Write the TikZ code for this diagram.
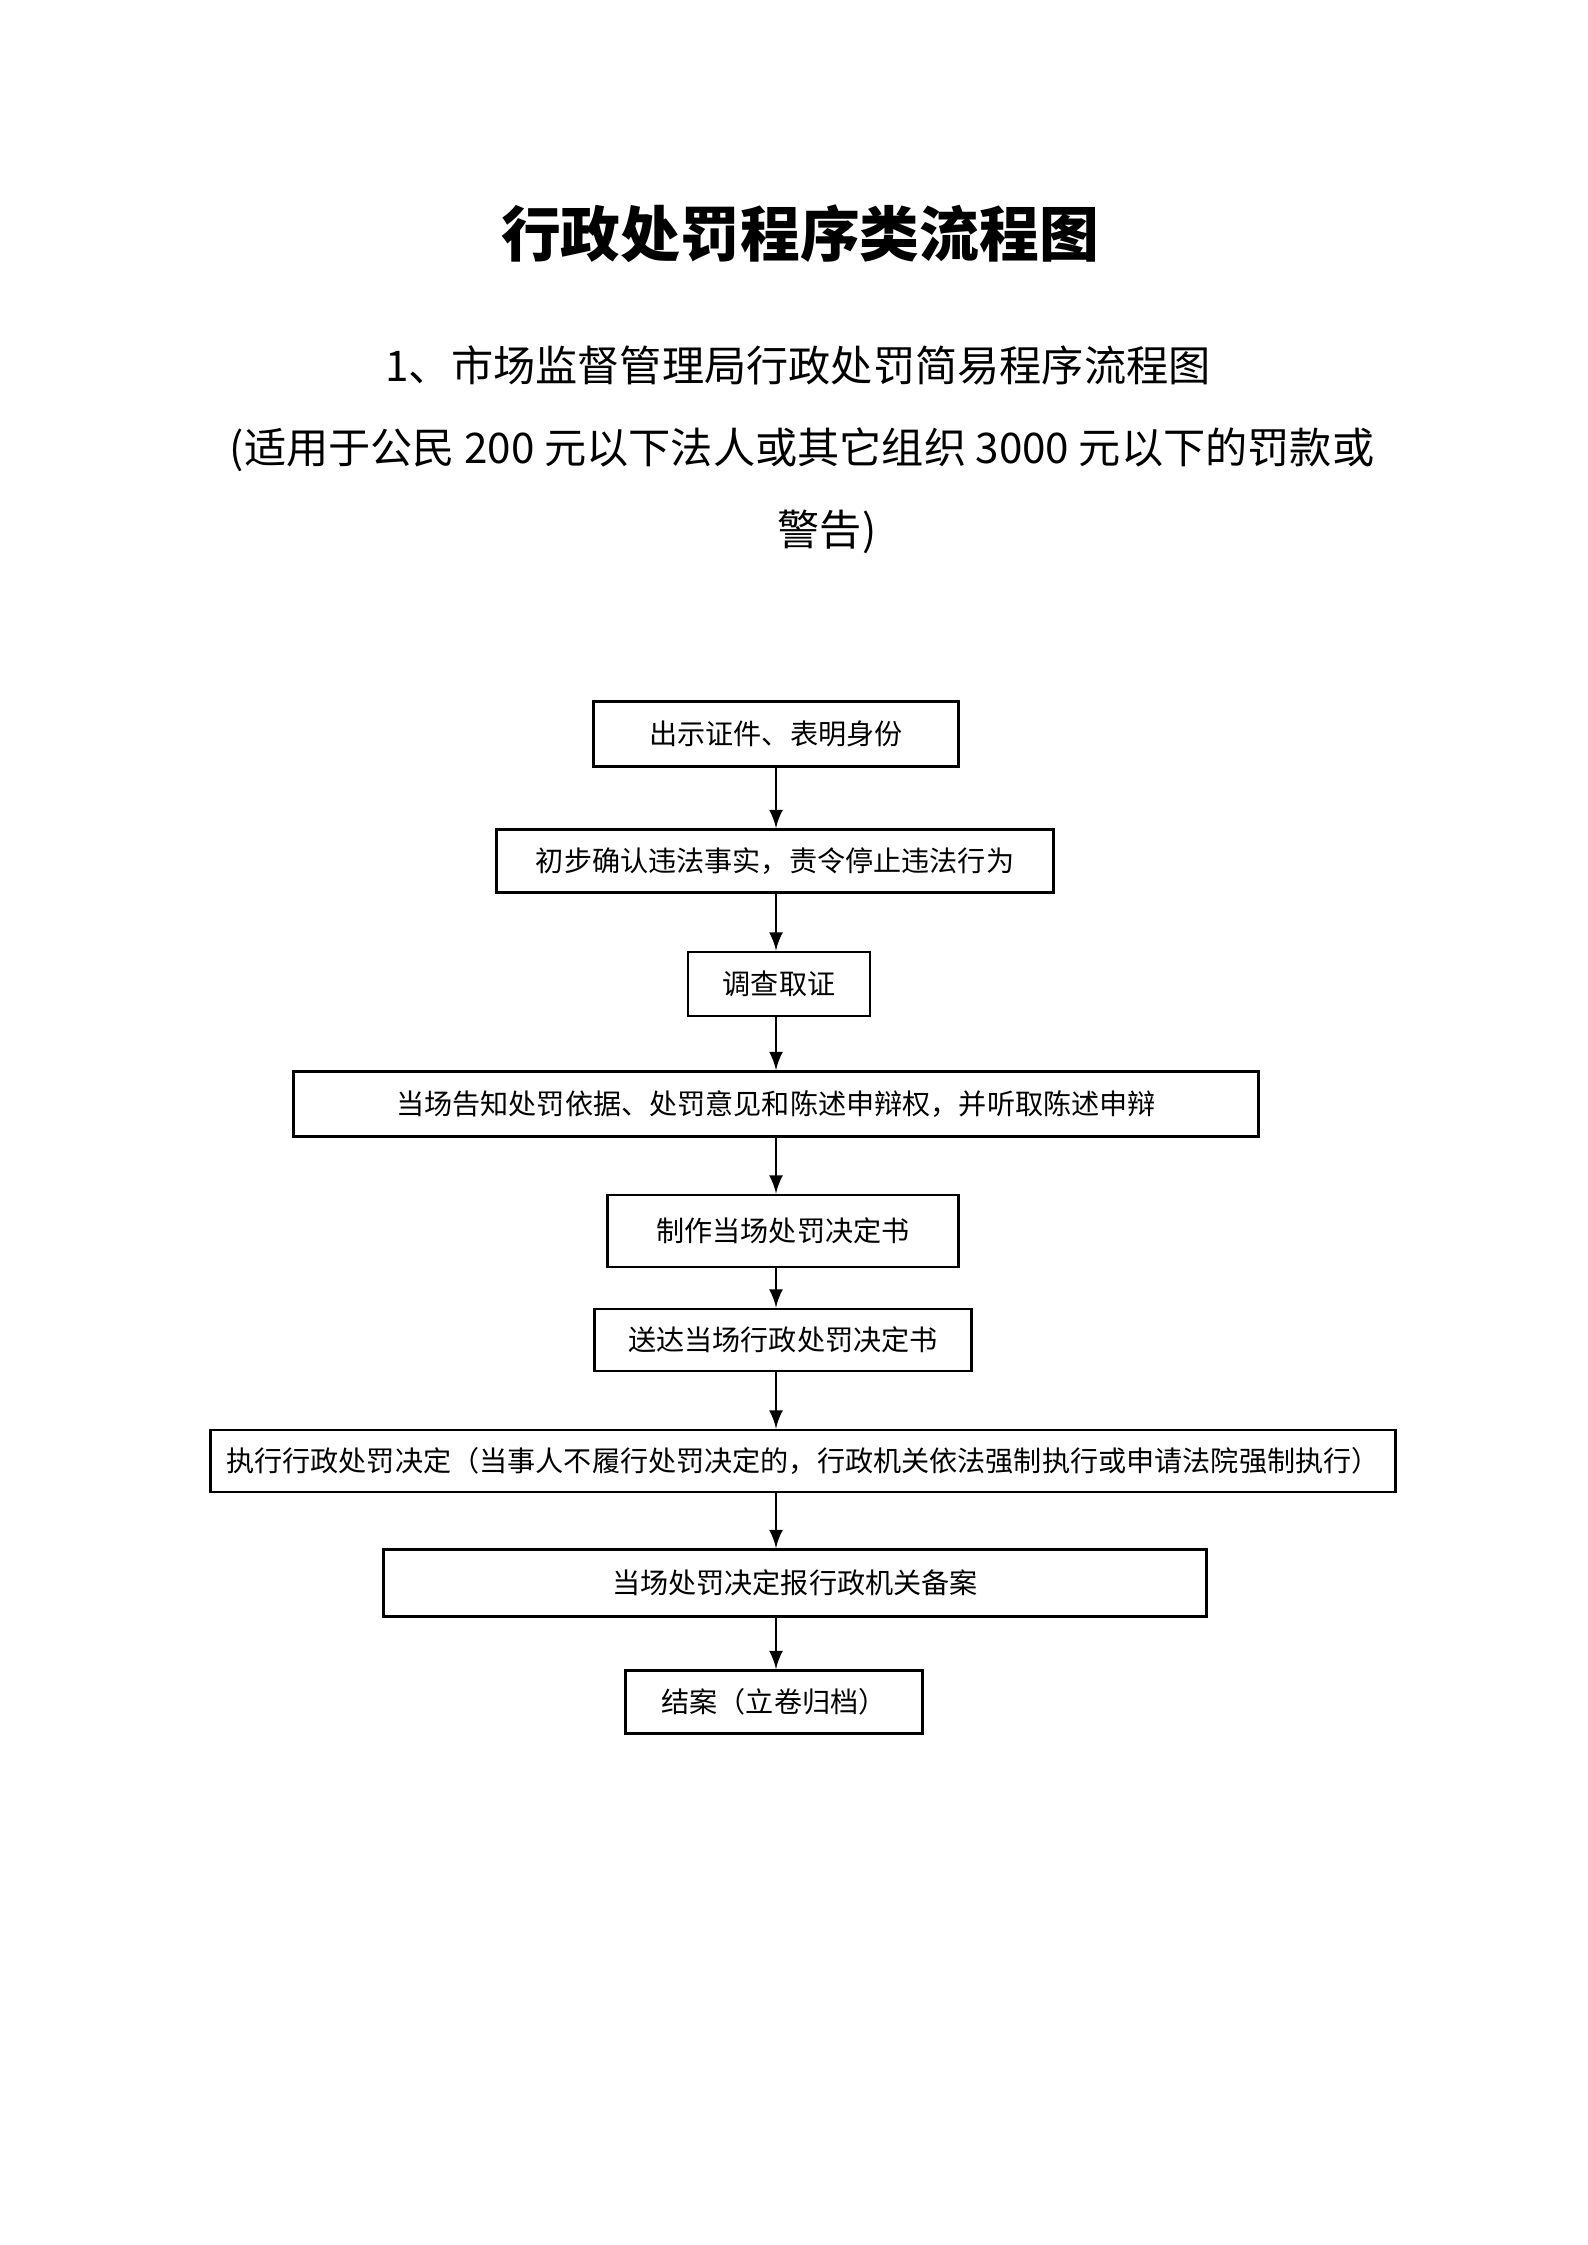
\documentclass[tikz,border=0pt]{standalone}
\usepackage{fontspec}
\setmainfont{Noto Sans CJK SC}
\tikzset{stepbox/.style={draw,thick,inner sep=0pt,font=\fontsize{8}{10}\selectfont}}
\begin{document}
\begin{tikzpicture}[x=0.01cm,y=-0.01cm]
\useasboundingbox (0,0) rectangle (1587,2245);
\node (title) at (800,234) {\fontsize{17}{20}\selectfont\bfseries 行政处罚程序类流程图};
\node (sub1) at (798,365) {\fontsize{12}{14}\selectfont 1、市场监督管理局行政处罚简易程序流程图};
\node (sub2) at (802,450) {\fontsize{12}{14}\selectfont (适用于公民 200 元以下法人或其它组织 3000 元以下的罚款或};
\node (sub3) at (827,532) {\fontsize{12}{14}\selectfont 警告)};
\node[stepbox,minimum width=3.64cm,minimum height=0.65cm] (b1) at (776,734) {出示证件、表明身份};
\node[stepbox,minimum width=5.57cm,minimum height=0.63cm] (b2) at (775,861) {初步确认违法事实，责令停止违法行为};
\node[stepbox,minimum width=1.82cm,minimum height=0.64cm] (b3) at (779,984) {调查取证};
\node[stepbox,minimum width=9.65cm,minimum height=0.65cm] (b4) at (776,1104) {当场告知处罚依据、处罚意见和陈述申辩权，并听取陈述申辩};
\node[stepbox,minimum width=3.51cm,minimum height=0.72cm] (b5) at (783,1231) {制作当场处罚决定书};
\node[stepbox,minimum width=3.77cm,minimum height=0.62cm] (b6) at (783,1340) {送达当场行政处罚决定书};
\node[stepbox,minimum width=11.84cm,minimum height=0.62cm] (b7) at (803,1461) {执行行政处罚决定（当事人不履行处罚决定的，行政机关依法强制执行或申请法院强制执行）};
\node[stepbox,minimum width=8.22cm,minimum height=0.67cm] (b8) at (795,1583) {当场处罚决定报行政机关备案};
\node[stepbox,minimum width=2.97cm,minimum height=0.63cm] (b9) at (774,1702) {结案（立卷归档）};
\coordinate (axis) at (776,0);
\foreach \a/\b in {b1/b2,b2/b3,b3/b4,b4/b5,b5/b6,b6/b7,b7/b8,b8/b9}
  \draw[thick,-latex] (\a.south -| axis) -- (\b.north -| axis);
\end{tikzpicture}
\end{document}
